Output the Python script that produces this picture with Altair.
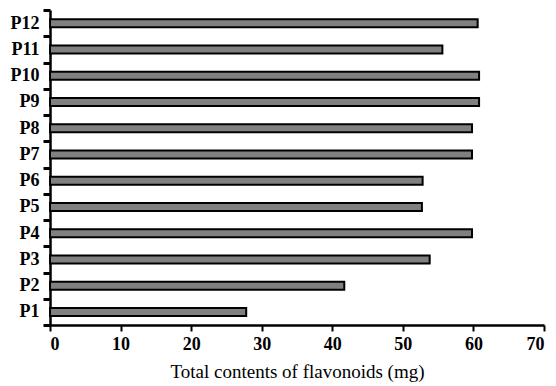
import altair as alt
import pandas as pd

samples = ["P1", "P2", "P3", "P4", "P5", "P6", "P7", "P8", "P9", "P10", "P11", "P12"]
flavonoids = [27.8, 41.7, 53.8, 59.8, 52.7, 52.8, 59.8, 59.8, 60.8, 60.8, 55.6, 60.6]

df = pd.DataFrame({"sample": samples, "value": flavonoids})

font = "Liberation Serif"

chart = alt.Chart(df).mark_bar(
    size=8, color="#808080", stroke="black", strokeWidth=2
).encode(
    x=alt.X("value:Q", scale=alt.Scale(domain=[0, 70], nice=False),
            axis=alt.Axis(title="Total contents of flavonoids (mg)", values=list(range(0, 71, 10)),
                          grid=False, domainColor="black", domainWidth=2.5, ticks=True,
                          tickColor="black", tickWidth=2, tickSize=6, labelFont=font,
                          labelFontSize=18, labelFontWeight="bold", labelColor="black",
                          labelPadding=4, titleFont=font, titleFontSize=19,
                          titleFontWeight="normal", titleColor="black", titlePadding=9)),
    y=alt.Y("sample:N", sort=samples[::-1], scale=alt.Scale(paddingInner=0, paddingOuter=0),
            axis=alt.Axis(title=None, grid=False, domainColor="black", domainWidth=2.5,
                          ticks=True, tickColor="#000000", tickOpacity=1, tickWidth=3,
                          tickSize=7, tickBand="extent", labelFont=font, labelFontSize=18,
                          labelFontWeight="bold", labelColor="black", labelPadding=4)),
).properties(
    width=494, height=315,
    autosize=alt.AutoSizeParams(type="none"),
    padding={"left": 50, "top": 10, "right": 12, "bottom": 61},
).configure_view(stroke=None)

chart.save("out.html", embed_options={"renderer": "svg", "actions": False})
